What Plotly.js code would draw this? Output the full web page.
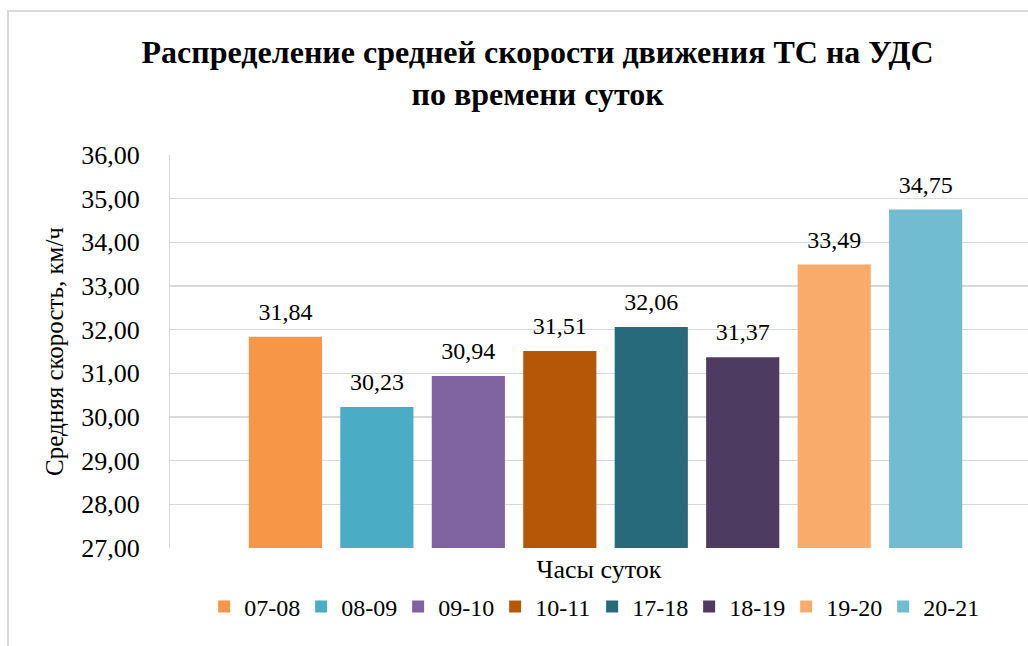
<!DOCTYPE html>
<html>
<head>
<meta charset="utf-8">
<script src="https://cdn.plot.ly/plotly-3.0.1.min.js"></script>
<style>
  html, body { margin: 0; padding: 0; background: #fff; }
  #wrap { position: relative; width: 1028px; height: 646px; overflow: hidden; }
  #chart { position: absolute; left: 0; top: 0; width: 1028px; height: 646px; }
  #frame { position: absolute; left: 7px; top: 10px; width: 1040px; height: 660px;
           border-left: 2px solid #d9d9d9; border-top: 2px solid #d9d9d9; pointer-events: none; }
</style>
</head>
<body>
<div id="wrap">
  <div id="chart"></div>
  <div id="frame"></div>
</div>
<script>
const categories = ['07-08', '08-09', '09-10', '10-11', '17-18', '18-19', '19-20', '20-21'];
const speeds = [31.84, 30.23, 30.94, 31.51, 32.06, 31.37, 33.49, 34.75];
const colors = ['#F79646', '#4BACC6', '#8064A2', '#B65708', '#276A7C', '#4D3B62', '#F9AB6B', '#71BCD1'];
const xCategory = ['Часы суток'];
const yTicks = [27, 28, 29, 30, 31, 32, 33, 34, 35, 36];

const serif = 'Liberation Serif';

const traces = categories.map((name, i) => ({
  type: 'bar',
  name: name,
  x: xCategory,
  y: [speeds[i]],
  marker: { color: colors[i] },
  texttemplate: '<span style="font-size:24px">%{y:.2f}</span><br> ',
  textposition: 'outside',
  constraintext: 'none',
  cliponaxis: false,
  textfont: { family: serif, size: 9, color: '#000' },
  hoverinfo: 'name+y'
}));

const layout = {
  width: 1028,
  height: 646,
  separators: ', ',
  paper_bgcolor: '#fff',
  plot_bgcolor: '#fff',
  font: { family: serif, color: '#000' },
  margin: { l: 170, r: 0, t: 155, b: 98 },
  title: {
    text: '<b>Распределение средней скорости движения ТС на УДС<br>по времени суток</b>',
    font: { family: serif, size: 32, color: '#000' },
    x: 0.523, xanchor: 'center',
    y: 0.902, yanchor: 'top'
  },
  barmode: 'group',
  bargap: 0.16,
  bargroupgap: 0.2,
  showlegend: true,
  legend: {
    orientation: 'h',
    x: 0.492, xanchor: 'center',
    y: -0.15, yanchor: 'middle',
    font: { family: serif, size: 24, color: '#000' },
    itemwidth: 30,
    entrywidth: 52,
    entrywidthmode: 'pixels',
    traceorder: 'normal'
  },
  xaxis: {
    type: 'category',
    range: [-0.5, 0.485],
    showticklabels: false,
    showgrid: false,
    zeroline: false,
    showline: false,
    ticks: '',
    title: { text: 'Часы суток', font: { family: serif, size: 26, color: '#000' }, standoff: 11 },
    fixedrange: true
  },
  yaxis: {
    range: [27, 36],
    tickvals: yTicks,
    tickformat: '.2f',
    showgrid: true,
    gridcolor: '#d9d9d9',
    gridwidth: 1.5,
    zeroline: false,
    showline: true,
    linecolor: '#d9d9d9',
    ticks: '',
    ticklabelstandoff: 24,
    tickfont: { family: serif, size: 26, color: '#000' },
    title: { text: 'Средняя скорость, км/ч', font: { family: serif, size: 25, color: '#000' }, standoff: 10 },
    fixedrange: true
  }
};

Plotly.newPlot('chart', traces, layout, { displayModeBar: false, staticPlot: true });
</script>
</body>
</html>
